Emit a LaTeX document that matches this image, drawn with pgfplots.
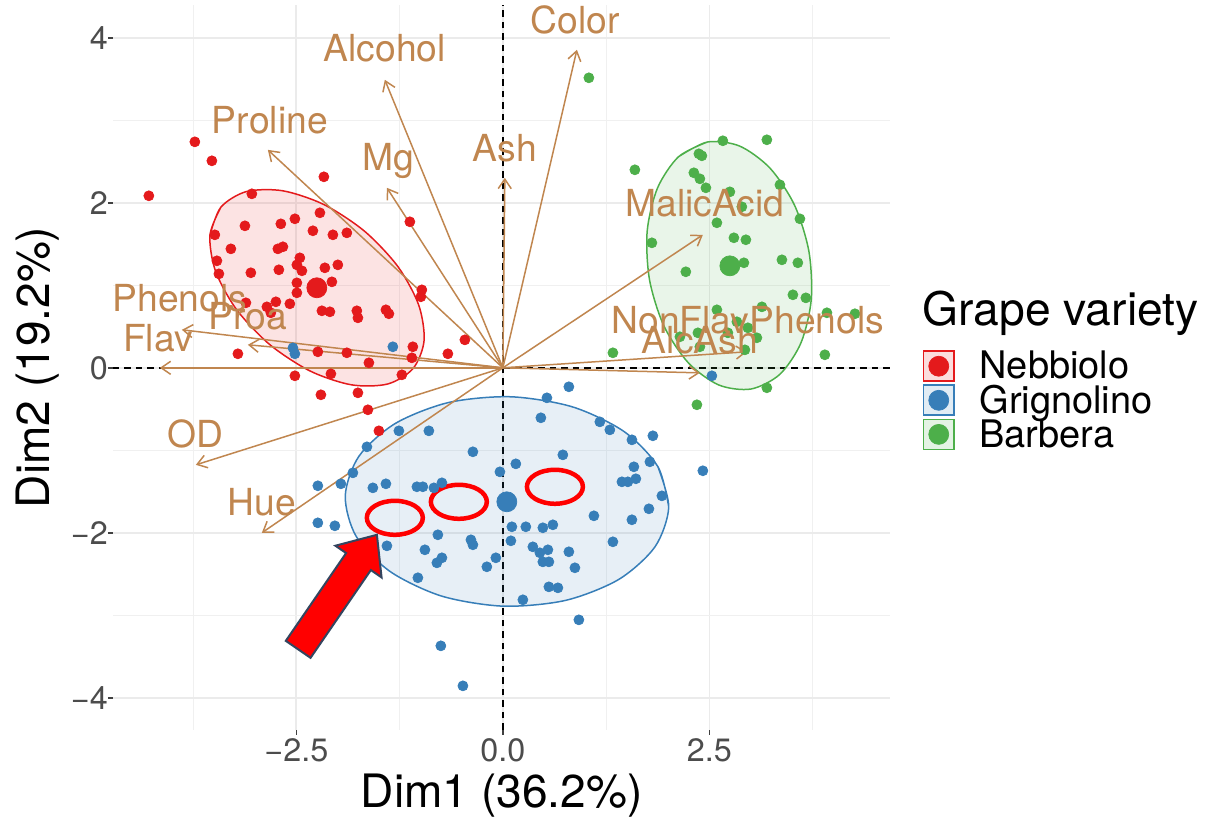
\documentclass[border=0pt]{standalone}
\usepackage{fontspec}
\setmainfont{TeX Gyre Heros}
\usepackage{pgfplots}
\pgfplotsset{compat=1.18}
\usetikzlibrary{arrows.meta}

\definecolor{cRed}{HTML}{E41A1C}
\definecolor{cBlue}{HTML}{377EB8}
\definecolor{cGreen}{HTML}{4DAF4A}
\definecolor{cVar}{HTML}{C0864F}
\definecolor{cEdge}{HTML}{34455F}

\begin{document}
\begin{tikzpicture}
\begin{axis}[
    name=ax,
    x=16.52mm, y=16.5mm,
    xmin=-4.72, xmax=4.69, ymin=-4.39, ymax=4.40,
    clip=false,
    axis line style={draw=none},
    xtick={-2.5,0,2.5}, xticklabels={−2.5,0.0,2.5},
    ytick={-4,-2,0,2,4}, yticklabels={−4,−2,0,2,4},
    minor xtick={-3.75,-1.25,1.25,3.75},
    minor ytick={-3,-1,1,3},
    grid=both,
    major grid style={line width=0.35mm, black!8},
    minor grid style={line width=0.2mm, black!6},
    xtick pos=left, ytick pos=left,
    tick align=outside,
    major tick length=1mm, minor tick length=0pt,
    tick style={line width=0.3mm, black!75},
    tick label style={font=\fontsize{18.4}{20}\selectfont, text=black!70},
    xticklabel style={yshift=0.6mm},
    yticklabel style={xshift=1.2mm},
    xlabel={Dim1 (36.2\%)}, ylabel={Dim2 (19.2\%)},
    label style={font=\fontsize{26.2}{28}\selectfont},
    xlabel style={at={([yshift=-13.2mm]axis description cs:0.5,0)}, anchor=center},
    ylabel style={at={([xshift=-15mm]axis description cs:0,0.5)}, anchor=center},
    legend style={at={(rel axis cs:1,0.524)}, anchor=north west, xshift=6.4mm,
        draw=none, fill=none, inner sep=0pt, row sep=0pt,
        font=\fontsize{21.6}{22}\selectfont,
        nodes={inner sep=0pt, text height=5.7mm, text depth=1.1mm}},
    legend cell align=left,
]

% zero lines
\addplot[forget plot, black, line width=0.4mm, dash pattern=on 1.3mm off 1mm] coordinates {(-4.72,0) (4.69,0)};
\addplot[forget plot, black, line width=0.4mm, dash pattern=on 1.3mm off 1mm] coordinates {(0,-4.39) (0,4.40)};

% concentration ellipses
\addplot[forget plot, smooth, draw=cRed, line width=0.3mm, fill=cRed, fill opacity=0.12] table {
x y
-3.414 1.947
-3.546 1.610
-3.480 1.176
-3.227 0.710
-2.825 0.284
-2.335 -0.038
-1.834 -0.206
-1.394 -0.196
-1.086 -0.007
-0.954 0.330
-1.020 0.764
-1.273 1.230
-1.675 1.656
-2.165 1.978
-2.666 2.146
-3.106 2.136
-3.414 1.947
-3.546 1.610
};
\addplot[forget plot, smooth, draw=cBlue, line width=0.3mm, fill=cBlue, fill opacity=0.12] table {
x y
2.008 -1.688
1.876 -1.197
1.465 -0.771
0.841 -0.473
0.094 -0.351
-0.659 -0.421
-1.303 -0.675
-1.742 -1.071
-1.908 -1.552
-1.776 -2.043
-1.365 -2.469
-0.741 -2.767
0.006 -2.889
0.759 -2.819
1.403 -2.565
1.842 -2.169
2.008 -1.688
1.876 -1.197
};
\addplot[forget plot, smooth, draw=cGreen, line width=0.3mm, fill=cGreen, fill opacity=0.12] table {
x y
2.476 2.737
2.126 2.558
1.871 2.177
1.747 1.655
1.775 1.069
1.949 0.509
2.245 0.061
2.614 -0.208
3.004 -0.257
3.354 -0.078
3.609 0.303
3.733 0.825
3.705 1.411
3.531 1.971
3.235 2.419
2.866 2.688
2.476 2.737
2.126 2.558
};

% individuals
\addplot[only marks, mark=*, mark size=2.85pt, color=cRed, mark options={draw=cRed, fill=cRed},
    legend image code/.code={
        \draw[draw=cRed, fill=cRed, fill opacity=0.15, line width=0.35mm] (0mm,-2.76mm) rectangle (6.1mm,3.24mm);
        \fill[cRed] (3.05mm,0.24mm) circle (2mm);
        \path[draw=none] (0mm,0mm) -- (11.2mm,0mm);}] table {
x y
-3.729 2.739
-3.523 2.509
-4.286 2.085
-3.039 2.109
-3.123 1.721
-2.688 1.745
-2.518 1.806
-3.487 1.612
-3.293 1.442
-2.724 1.442
-2.663 1.467
-3.462 1.297
-3.438 1.139
-3.051 1.152
-2.712 1.188
-2.494 1.248
-2.494 1.030
-2.494 0.909
-3.111 0.788
-2.857 0.739
-2.809 0.667
-2.748 0.800
-2.579 0.776
-3.208 0.170
-2.518 -0.097
-2.167 2.315
-2.215 1.879
-2.300 1.661
-2.058 1.612
-1.889 1.636
-1.126 1.770
-2.458 1.333
-2.433 1.176
-2.155 1.212
-1.998 1.248
-2.070 1.042
-2.191 0.691
-2.094 0.679
-1.768 0.691
-1.755 0.606
-1.416 0.703
-1.380 0.655
-0.981 0.945
-0.993 0.861
-0.460 0.339
-0.666 0.170
-1.090 0.255
-1.102 0.121
-2.240 0.194
-1.889 0.182
-1.622 0.061
-2.082 -0.073
-1.223 -0.085
-2.203 -0.327
-1.755 -0.303
-1.634 -0.509
-1.501 -0.764
};
\addlegendentry{Nebbiolo}

\addplot[only marks, mark=*, mark size=2.85pt, color=cBlue, mark options={draw=cBlue, fill=cBlue},
    legend image code/.code={
        \draw[draw=cBlue, fill=cBlue, fill opacity=0.15, line width=0.35mm] (0mm,-2.76mm) rectangle (6.1mm,3.24mm);
        \fill[cBlue] (3.05mm,0.24mm) circle (2mm);
        \path[draw=none] (0mm,0mm) -- (11.2mm,0mm);}] table {
x y
0.799 -0.230
0.533 -0.364
0.460 -0.606
1.174 -0.655
1.295 -0.752
1.562 -0.873
1.816 -0.824
-1.259 -0.764
-0.896 -0.764
-1.646 -0.958
-0.363 -1.018
0.726 -1.055
0.157 -1.164
-0.036 -1.261
1.586 -1.200
1.780 -1.139
-1.816 -1.273
-1.961 -1.406
-1.574 -1.455
-1.416 -1.406
-1.041 -1.442
-0.969 -1.442
-0.835 -1.455
-0.738 -1.394
1.441 -1.382
1.513 -1.382
1.610 -1.345
1.925 -1.552
-2.034 -1.915
-2.240 -1.430
-2.240 -1.879
-0.787 -2.024
-0.387 -2.085
-0.363 -2.145
0.109 -1.927
0.278 -1.927
0.484 -1.939
0.605 -1.903
1.102 -1.794
1.562 -1.842
1.768 -1.709
0.097 -2.097
-1.404 -2.158
-0.944 -2.206
0.363 -2.170
0.448 -2.242
0.545 -2.206
0.484 -2.352
0.557 -2.352
0.799 -2.230
1.332 -2.109
-0.085 -2.303
-0.738 -2.303
-0.799 -2.364
-0.194 -2.412
0.872 -2.424
-1.029 -2.545
0.557 -2.655
0.666 -2.667
0.242 -2.812
0.920 -3.055
-0.751 -3.370
-0.484 -3.855
2.421 -1.248
2.530 -0.097
-2.542 0.242
-2.518 0.170
-1.332 0.255
};
\addlegendentry{Grignolino}

\addplot[only marks, mark=*, mark size=2.85pt, color=cGreen, mark options={draw=cGreen, fill=cGreen},
    legend image code/.code={
        \draw[draw=cGreen, fill=cGreen, fill opacity=0.15, line width=0.35mm] (0mm,-2.76mm) rectangle (6.1mm,3.24mm);
        \fill[cGreen] (3.05mm,0.24mm) circle (2mm);
        \path[draw=none] (0mm,0mm) -- (11.2mm,0mm);}] table {
x y
1.041 3.515
2.663 2.752
3.196 2.764
2.373 2.594
2.409 2.570
1.598 2.400
2.312 2.364
2.385 2.291
2.458 2.182
3.354 2.218
2.748 2.133
2.893 1.952
3.596 1.806
2.591 1.758
1.804 1.515
2.797 1.576
2.942 1.552
2.918 1.273
2.215 1.164
3.378 1.309
3.571 1.273
3.511 0.885
3.668 0.848
2.591 0.703
3.136 0.739
3.923 0.667
4.262 0.655
2.833 0.558
2.966 0.485
2.143 0.376
2.361 0.424
2.724 0.424
3.075 0.364
2.930 0.218
3.898 0.158
3.196 -0.242
1.332 0.182
2.349 -0.448
2.385 0.255
};
\addlegendentry{Barbera}

% group means
\addplot[forget plot, only marks, mark=*, mark size=5.7pt, color=cRed] coordinates {(-2.252,0.970)};
\addplot[forget plot, only marks, mark=*, mark size=5.7pt, color=cBlue] coordinates {(0.048,-1.624)};
\addplot[forget plot, only marks, mark=*, mark size=5.7pt, color=cGreen] coordinates {(2.748,1.236)};

% variable arrows
\addplot[forget plot, cVar, line width=0.3mm, -{Straight Barb[length=1.9mm, width=2.6mm]},
    quiver={u=\thisrow{u}, v=\thisrow{v}}] table {
x y u v
0 0 0.896 3.855
0 0 -1.429 3.491
0 0 -2.845 2.642
0 0 -1.404 2.182
0 0 0.024 2.303
0 0 2.421 1.612
0 0 2.954 0.194
0 0 2.385 -0.061
0 0 -3.886 0.461
0 0 -4.153 0.000
0 0 -3.087 0.279
0 0 -3.717 -1.176
0 0 -2.918 -2.000
};

% variable labels
\addplot[forget plot, only marks, mark=none, nodes near coords, point meta=explicit symbolic,
    every node near coord/.append style={anchor=center, inner sep=0pt, text height=15.3pt, text depth=0pt,
        font=\fontsize{21.2}{22}\selectfont, text=cVar}] table[meta=label] {
x y label
0.872 4.218 Color
-1.429 3.879 Alcohol
-2.821 3.006 Proline
-1.392 2.558 Mg
0.024 2.667 Ash
2.446 2.000 MalicAcid
2.966 0.582 NonFlavPhenols
2.385 0.339 AlcAsh
-3.910 0.848 Phenols
-4.177 0.364 Flav
-3.087 0.630 Proa
-3.717 -0.800 OD
-2.918 -1.624 Hue
};

% annotations
\draw[red, line width=0.9mm] (axis cs:-1.308,-1.818) ellipse [x radius=5.6mm, y radius=3.4mm];
\draw[red, line width=0.9mm] (axis cs:-0.533,-1.624) ellipse [x radius=5.6mm, y radius=3.4mm];
\draw[red, line width=0.9mm] (axis cs:0.630,-1.442) ellipse [x radius=5.6mm, y radius=3.4mm];
\draw[fill=red, draw=cEdge, line width=0.4mm, line join=miter]
    (axis cs:-1.525,-2.024) -- ++(194.76:8.58mm) -- ++(-34.5:2.6mm) -- ++(235.5:21.3mm)
    -- ++(-34.5:6mm) -- ++(55.5:21.3mm) -- ++(-34.5:2.6mm) -- cycle;

\node[anchor=west, inner sep=0pt, text height=18.9pt, text depth=0pt,
    font=\fontsize{26.3}{28}\selectfont] at ([xshift=6.4mm]rel axis cs:1,0.581) {Grape variety};
\end{axis}
\pgfresetboundingbox
\path[use as bounding box] ([shift={(-22.6mm,-18.6mm)}]ax.south west) rectangle ++(245.2mm,164.6mm);
\end{tikzpicture}
\end{document}
